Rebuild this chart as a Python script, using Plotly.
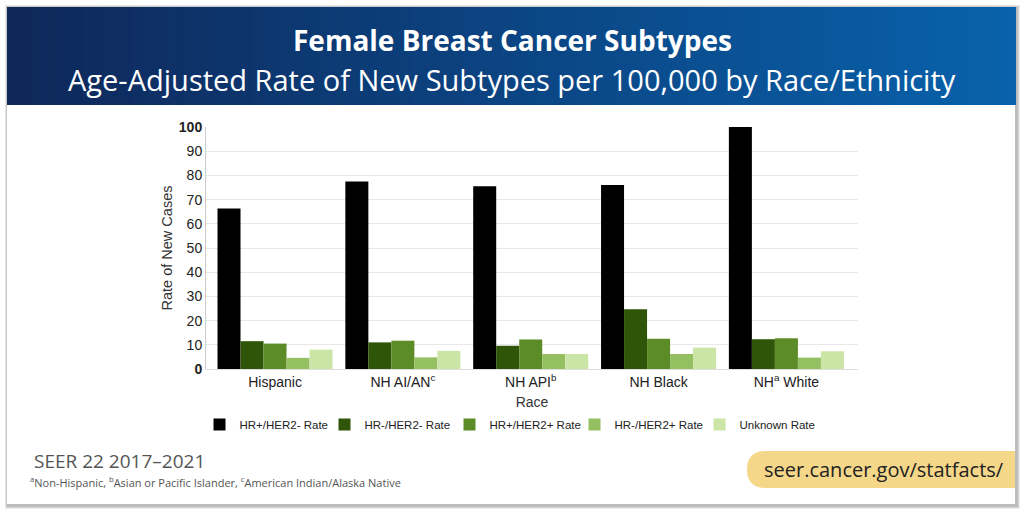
import plotly.graph_objects as go

categories = ["Hispanic", "NH AI/AN<sup>c</sup>", "NH API<sup>b</sup>", "NH Black", "NH<sup>a</sup> White"]
series_names = ["HR+/HER2- Rate", "HR-/HER2- Rate", "HR+/HER2+ Rate", "HR-/HER2+ Rate", "Unknown Rate"]
hr_pos_her2_neg = [66.3, 77.5, 75.5, 76.0, 100.0]
hr_neg_her2_neg = [11.5, 11.0, 9.6, 24.7, 12.3]
hr_pos_her2_pos = [10.5, 11.7, 12.2, 12.5, 12.7]
hr_neg_her2_pos = [4.6, 4.8, 6.2, 6.2, 4.7]
unknown = [8.0, 7.5, 6.2, 8.8, 7.3]
series_values = [hr_pos_her2_neg, hr_neg_her2_neg, hr_pos_her2_pos, hr_neg_her2_pos, unknown]
colors = ["#000000", "#2f5508", "#5c8c27", "#94c062", "#cbe5a6"]
y_ticks = [0, 10, 20, 30, 40, 50, 60, 70, 80, 90, 100]
y_ticktext = ["<b>0</b>", "10", "20", "30", "40", "50", "60", "70", "80", "90", "<b>100</b>"]

W, H = 1024, 512
ML, MR, MT, MB = 206, 166, 127, 143
PW, PH = W - ML - MR, H - MT - MB


def px(x):
    return (x - ML) / PW


def py(y):
    return (H - MB - y) / PH


fig = go.Figure()
for name, vals, col in zip(series_names, series_values, colors):
    fig.add_trace(go.Bar(x=categories, y=vals, name=name, marker=dict(color=col, line=dict(width=0))))

shapes = []
# card shadow + card
for i, c in enumerate(["#ececec", "#d6d6d6", "#bdbdbd"]):
    shapes.append(dict(type="rect", xref="paper", yref="paper",
                       x0=px(5 + i * 0.7), x1=px(1020 - i),
                       y0=py(509 - i), y1=py(5 + i * 0.7),
                       line=dict(width=0), fillcolor=c, layer="below"))
shapes.append(dict(type="rect", xref="paper", yref="paper", x0=px(7), x1=px(1015),
                   y0=py(504), y1=py(7), line=dict(width=0), fillcolor="#ffffff", layer="below"))
# header gradient
n = 120
x_start, x_end = 7, 1016
c0 = (15, 40, 90)
c1 = (9, 98, 172)
for i in range(n):
    t = i / (n - 1)
    r = int(c0[0] + (c1[0] - c0[0]) * t)
    g = int(c0[1] + (c1[1] - c0[1]) * t)
    b = int(c0[2] + (c1[2] - c0[2]) * t)
    xa = x_start + (x_end - x_start) * i / n
    xb = x_start + (x_end - x_start) * (i + 1) / n + 0.8
    shapes.append(dict(type="rect", xref="paper", yref="paper", x0=px(xa), x1=px(min(xb, x_end)),
                       y0=py(105), y1=py(7), line=dict(width=0),
                       fillcolor=f"rgb({r},{g},{b})", layer="below"))
# yellow pill
shapes.append(dict(type="path", xref="paper", yref="paper",
                   path="M {0},{1} L {2},{1} L {2},{3} L {0},{3} Q {4},{3} {4},{5} Q {4},{1} {0},{1} Z".format(
                       px(766), py(451), px(1015), py(488), px(747), py(469.5)),
                   line=dict(width=0), fillcolor="#f5d78a", layer="below"))

annotations = [
    dict(text="<b>Female Breast Cancer Subtypes</b>", x=px(512), y=py(40), xref="paper", yref="paper",
         showarrow=False, font=dict(family="Open Sans", size=28, color="#ffffff"), xanchor="center", yanchor="middle"),
    dict(text="Age-Adjusted Rate of New Subtypes per 100,000 by Race/Ethnicity", x=px(512), y=py(79),
         xref="paper", yref="paper", showarrow=False, font=dict(family="Open Sans", size=29, color="#ffffff"),
         xanchor="center", yanchor="middle"),
    dict(text="SEER 22 2017–2021", x=px(32), y=py(461), xref="paper", yref="paper", showarrow=False,
         font=dict(family="Open Sans", size=19, color="#555555"), xanchor="left", yanchor="middle"),
    dict(text="<sup>a</sup>Non-Hispanic, <sup>b</sup>Asian or Pacific Islander, <sup>c</sup>American Indian/Alaska Native",
         x=px(28), y=py(482), xref="paper", yref="paper", showarrow=False,
         font=dict(family="Open Sans", size=11, color="#555555"), xanchor="left", yanchor="middle"),
    dict(text="seer.cancer.gov/statfacts/", x=px(884), y=py(469), xref="paper", yref="paper",
         showarrow=False, font=dict(family="Open Sans", size=20, color="#222222"), xanchor="center", yanchor="middle"),
]

fig.update_layout(
    width=W, height=H,
    margin=dict(l=ML, r=MR, t=MT, b=MB),
    paper_bgcolor="#ffffff", plot_bgcolor="rgba(0,0,0,0)",
    barmode="group", bargap=0.1, bargroupgap=0,
    shapes=shapes, annotations=annotations,
    font=dict(family="Liberation Sans", color="#222222"),
    legend=dict(orientation="h", x=px(512), xanchor="center", y=py(410), yanchor="top",
                font=dict(family="Liberation Sans", size=11.5, color="#222222"),
                itemwidth=30, entrywidth=80, entrywidthmode="pixels",
                bgcolor="rgba(0,0,0,0)", traceorder="normal"),
    showlegend=True,
)
fig.update_xaxes(title=dict(text="Race", font=dict(size=14, color="#333333"), standoff=8),
                 range=[-0.54, 4.56],
                 tickfont=dict(size=14, color="#222222"), showline=True, linecolor="#dddddd",
                 ticks="", showgrid=False)
fig.update_yaxes(title=dict(text="Rate of New Cases", font=dict(size=14.5, color="#333333"), standoff=2),
                 range=[0, 100], tickvals=y_ticks, ticktext=y_ticktext,
                 tickfont=dict(size=14, color="#222222"), showgrid=True, gridcolor="#e8e8e8",
                 showline=True, linecolor="#cccccc", zeroline=False, ticks="")

fig.write_html("out.html")
